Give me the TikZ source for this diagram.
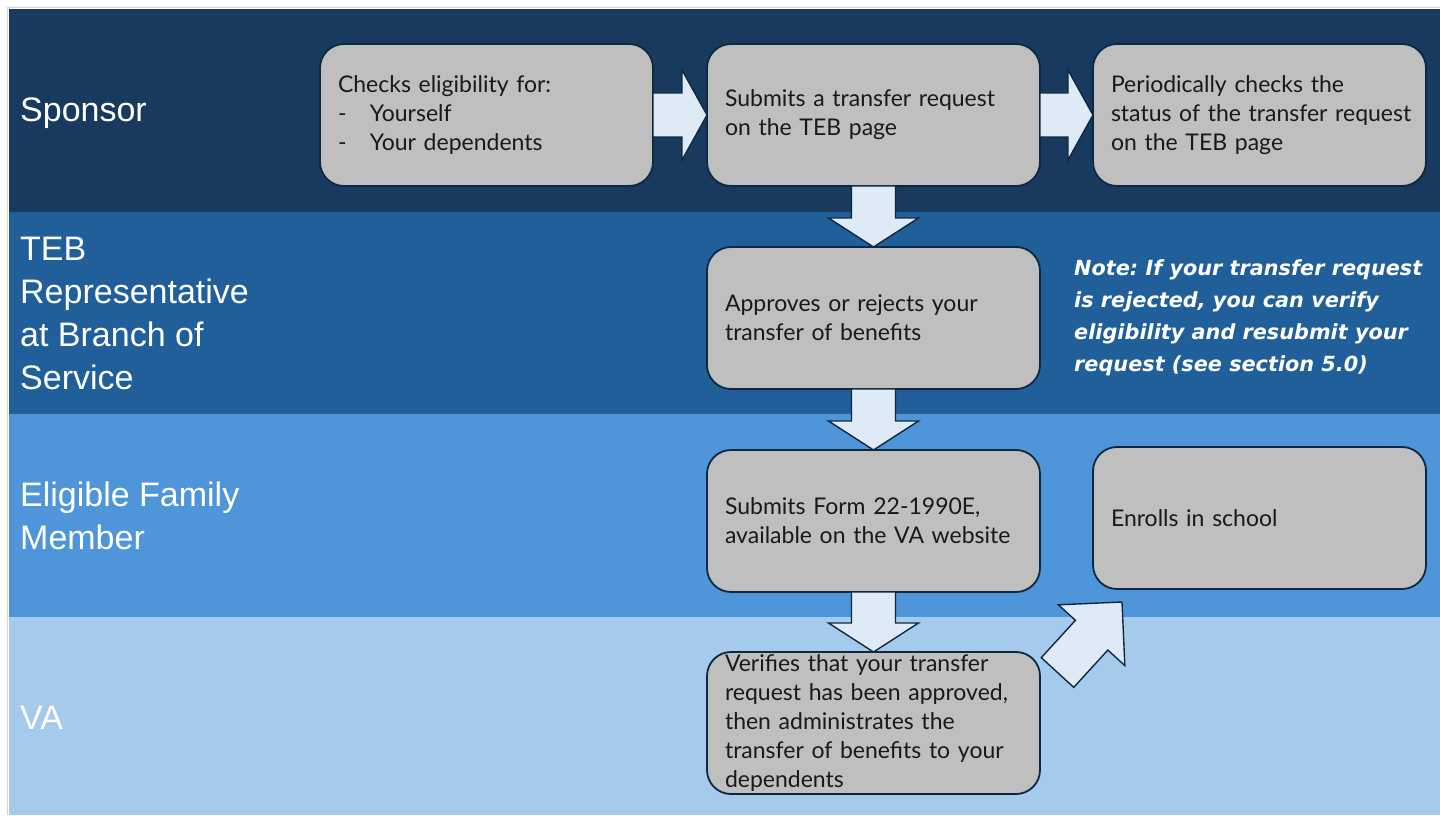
\documentclass[tikz,border=0pt]{standalone}
\usepackage{fontspec}
\setmainfont{Lato}
\newfontfamily\lanefont{Liberation Sans}
\newfontfamily\notefont{DejaVu Sans}
\usepackage{xcolor}
\usepackage{tikz}
\usetikzlibrary{positioning,calc}
\frenchspacing

\definecolor{sponsorblue}{HTML}{173A5E}
\definecolor{tebblue}{HTML}{215F9A}
\definecolor{familyblue}{HTML}{4E95D9}
\definecolor{vablue}{HTML}{A6CAEC}
\definecolor{boxgray}{HTML}{BFBFBF}
\definecolor{edgenavy}{HTML}{0E2841}
\definecolor{arrowfill}{HTML}{DEEBF7}
\definecolor{framegray}{HTML}{D4D4D4}

% block arrow: tail, tip, head length
\newcommand{\blockarrow}[3]{%
  \path (#1) coordinate (ba-s) (#2) coordinate (ba-t);
  \path ($(ba-t)!#3!(ba-s)$) coordinate (ba-h);
  \draw[blockarr] ($(ba-s)!22pt!90:(ba-t)$) -- ($(ba-h)!22pt!90:(ba-t)$)
    -- ($(ba-h)!45pt!90:(ba-t)$) -- (ba-t) -- ($(ba-h)!45pt!-90:(ba-t)$)
    -- ($(ba-h)!22pt!-90:(ba-t)$) -- ($(ba-s)!22pt!-90:(ba-t)$) -- cycle;
}

\begin{document}
\begin{tikzpicture}[x=1pt, y=1pt,
    lane/.style={minimum width=1431pt, inner sep=0pt, outer sep=0pt, anchor=north west},
    lanelabel/.style={anchor=west, inner sep=0pt, align=left, text=white,
             font=\lanefont\fontsize{34}{43}\selectfont},
    stepbox/.style={draw=edgenavy, line width=1.8pt, fill=boxgray, rounded corners=24pt,
             minimum width=333pt, minimum height=142pt, text width=297pt,
             inner xsep=18pt, inner ysep=0pt, outer sep=0pt, align=left,
             font=\fontsize{23}{29}\selectfont, text=black!90},
    notetext/.style={anchor=west, inner sep=0pt, align=left, text=white,
             font=\notefont\bfseries\itshape\fontsize{20.8}{32}\selectfont},
    blockarr/.style={draw=edgenavy, line width=1.4pt, fill=arrowfill, line join=miter}]
  \useasboundingbox[fill=white] (0,0) rectangle (1440,815);
  \draw[framegray, line width=1.5pt] (7.5,0) -- (7.5,807.5) -- (1440,807.5);

  % swim lanes
  \node[lane, fill=sponsorblue, minimum height=203pt] (sponsor) at (9,806) {};
  \node[lane, fill=tebblue, minimum height=202pt, below=0pt of sponsor] (teb) {};
  \node[lane, fill=familyblue, minimum height=203pt, below=0pt of teb] (family) {};
  \node[lane, fill=vablue, minimum height=198pt, below=0pt of family] (va) {};

  \node[lanelabel] (sponsorlbl) at ([xshift=11pt, yshift=-3pt]sponsor.west) {Sponsor};
  \node[lanelabel] (teblbl) at ([xshift=11pt]teb.west) {TEB\\Representative\\at Branch of\\Service};
  \node[lanelabel] (familylbl) at ([xshift=11pt]family.west) {Eligible Family\\Member};
  \node[lanelabel] (valbl) at ([xshift=11pt, yshift=-2pt]va.west) {VA};

  % steps
  \node[stepbox] (check) at (486.5,700) {Checks eligibility for:\\
    \makebox[32pt][l]{-}Yourself\\\makebox[32pt][l]{-}Your dependents};
  \node[stepbox, right=54pt of check] (submit) {Submits a transfer request\\on the TEB page};
  \node[stepbox, right=53pt of submit] (status) {Periodically checks the\\\mbox{status of the transfer request}\\on the TEB page};
  \node[stepbox, below=61pt of submit] (approve) {Approves or rejects your\\transfer of benefits};
  \node[stepbox, below=61pt of approve] (form) {Submits Form 22-1990E,\\available on the VA website};
  \node[stepbox, right=53pt of form, yshift=3pt] (enroll) {Enrolls in school};
  \node[stepbox, below=60pt of form] (verify) {Verifies that your transfer\\request has been approved,\\then administrates the\\transfer of benefits to your\\dependents};

  \node[notetext, right=34pt of approve] (note) {Note: If your transfer request\\is rejected, you can verify\\eligibility and resubmit your\\request (see section 5.0)};

  % arrows
  \blockarrow{check.east}{submit.west}{25pt}
  \blockarrow{submit.east}{status.west}{25pt}
  \blockarrow{submit.south}{approve.north}{29pt}
  \blockarrow{approve.south}{form.north}{29pt}
  \blockarrow{form.south}{verify.north}{29pt}
  \blockarrow{$(verify.north east)+(17.5,-20.5)$}{$(enroll.south west)+(29,-13)$}{45pt}
\end{tikzpicture}
\end{document}
